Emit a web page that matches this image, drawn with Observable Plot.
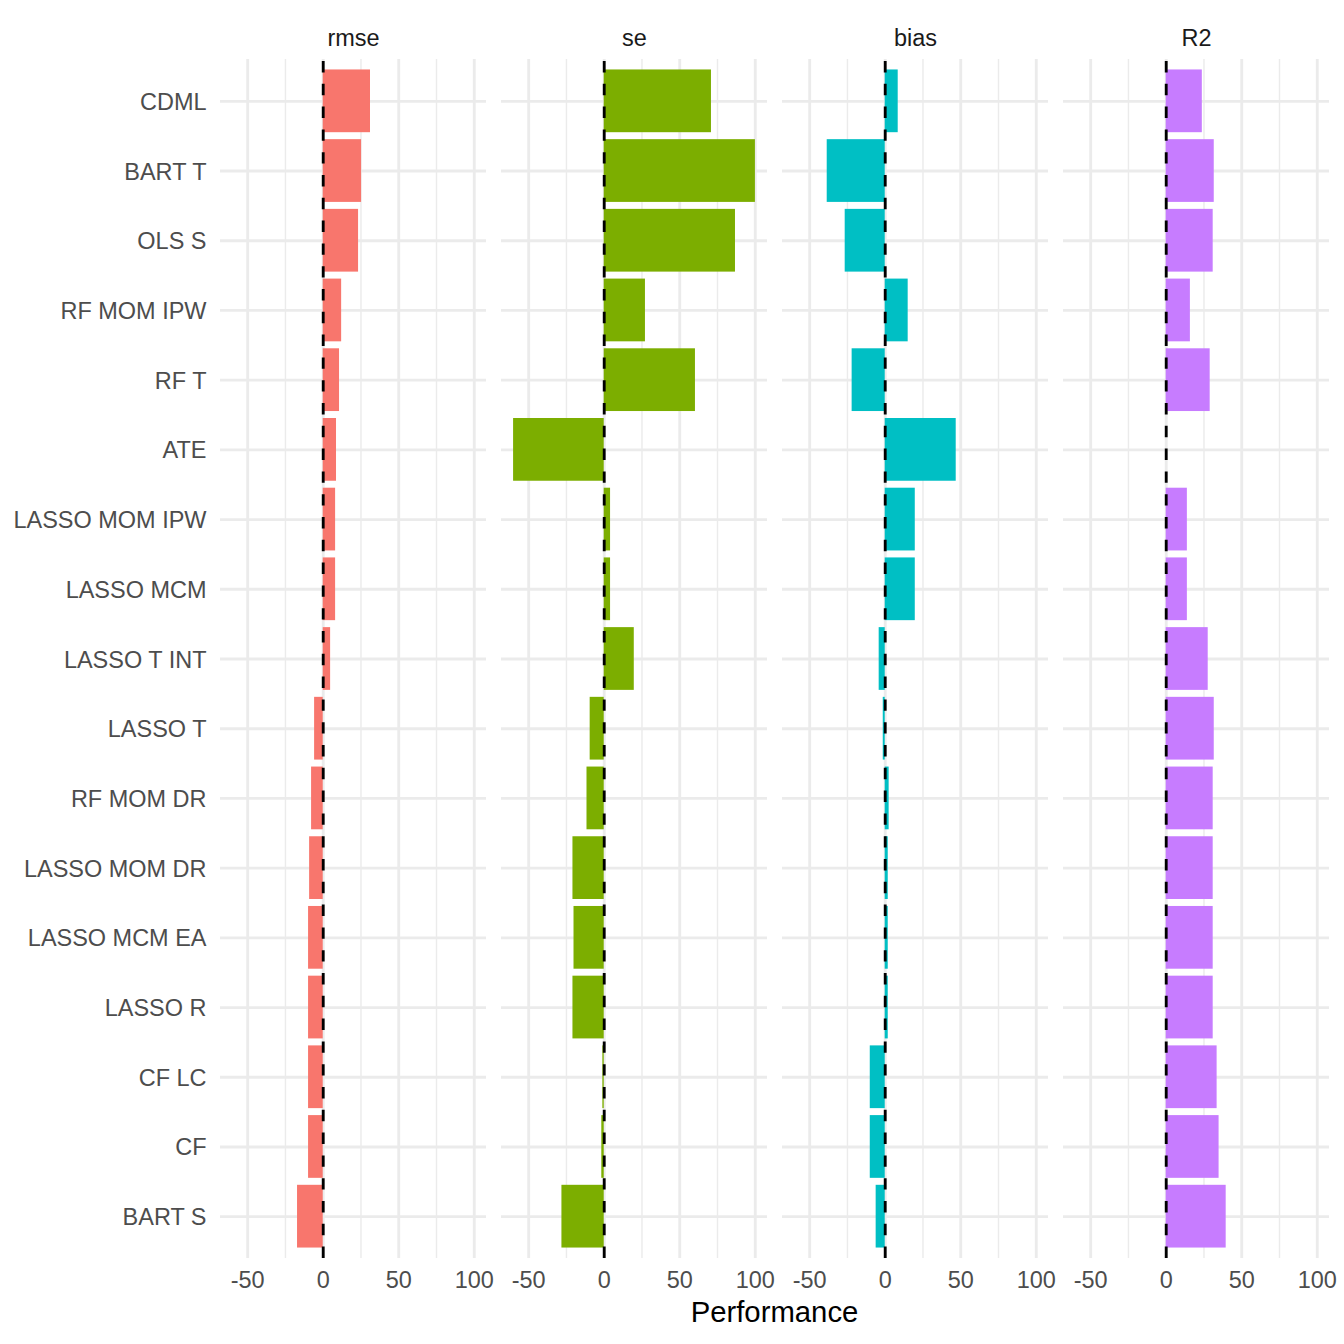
<!DOCTYPE html>
<html>
<head>
<meta charset="utf-8">
<script src="https://cdn.jsdelivr.net/npm/d3@7"></script>
<script src="https://cdn.jsdelivr.net/npm/@observablehq/plot@0.6"></script>
<style>
  html, body { margin: 0; padding: 0; background: white; }
</style>
</head>
<body>
<script>
// Methods (top to bottom)
const methods = ["CDML", "BART T", "OLS S", "RF MOM IPW", "RF T", "ATE", "LASSO MOM IPW", "LASSO MCM",
  "LASSO T INT", "LASSO T", "RF MOM DR", "LASSO MOM DR", "LASSO MCM EA", "LASSO R", "CF LC", "CF", "BART S"];

// Facets
const metrics = ["rmse", "se", "bias", "R2"];
const metricColors = ["#F8766D", "#7CAE00", "#00BFC4", "#C77CFF"];

// Values per metric (same order as methods)
const rmse = [31.3, 25.4, 23.4, 12.2, 10.8, 8.8, 8.2, 8.2, 4.9, -5.7, -7.7, -9.0, -9.7, -9.7, -9.7, -9.7, -17.0];
const se   = [71.0, 100.1, 86.9, 27.3, 60.4, -60.0, 4.2, 4.2, 19.9, -9.3, -11.4, -20.7, -20.0, -20.7, -0.9, -1.6, -28.0];
const bias = [8.6, -38.4, -26.5, 15.2, -21.9, 47.0, 19.9, 19.9, -4.0, -1.3, 2.6, 2.0, 2.0, 2.0, -9.9, -9.9, -6.0];
const r2   = [23.9, 31.8, 31.1, 16.0, 29.1, null, 14.0, 14.0, 27.8, 31.8, 31.1, 31.1, 31.1, 31.1, 33.7, 35.0, 39.7];

const xTicks = [-50, 0, 50, 100];
const xMinor = [-25, 25, 75];

const series = {rmse, se, bias, R2: r2};
const data = [];
for (const m of metrics) {
  series[m].forEach((v, i) => {
    if (v !== null && v !== undefined) data.push({metric: m, method: methods[i], value: v});
  });
}

const W = 1344, H = 1344;
const mL = 220, mR = 15, mT = 59, mB = 86;

const chart = Plot.plot({
  width: W,
  height: H,
  marginLeft: mL,
  marginRight: mR,
  marginTop: mT,
  marginBottom: mB,
  style: {fontFamily: "'Liberation Sans', Arial, Helvetica, sans-serif", background: "white", color: "#4D4D4D"},
  fx: {domain: metrics, paddingInner: 15 / 281, paddingOuter: 0, round: false, label: null, axis: null},
  x: {domain: [-68, 108.1], label: null},
  y: {domain: methods, paddingInner: 0.1, paddingOuter: 0.15, round: false, label: null},
  color: {domain: metrics, range: metricColors},
  marks: [
    Plot.ruleX(xMinor, {stroke: "#EBEBEB", strokeWidth: 1.42}),
    Plot.ruleX(xTicks, {stroke: "#EBEBEB", strokeWidth: 2.84}),
    Plot.gridY({stroke: "#EBEBEB", strokeOpacity: 1, strokeWidth: 2.84}),
    Plot.barX(data, {fx: "metric", y: "method", x: "value", fill: "metric"}),
    Plot.ruleX([0], {stroke: "black", strokeWidth: 2.84, strokeDasharray: "11.4,11.4", strokeDashoffset: 20.8}),
    Plot.axisX({ticks: xTicks, tickFormat: d => String(d), tickSize: 0, tickPadding: 13, fontSize: 23.47, fill: "#4D4D4D", label: null}),
    Plot.axisY({tickSize: 0, tickPadding: 14, fontSize: 23.47, fill: "#4D4D4D", label: null, dy: 1}),
    Plot.text(metrics, {fx: d => d, text: d => d, frameAnchor: "top", lineAnchor: "bottom", dy: -14, fontSize: 23.47, fill: "#1A1A1A"})
  ]
});

// x-axis title centered under the panels
d3.select(chart).append("text")
  .attr("x", (mL + (W - mR)) / 2)
  .attr("y", 1321.5)
  .attr("text-anchor", "middle")
  .attr("font-family", "'Liberation Sans', Arial, Helvetica, sans-serif")
  .attr("font-size", 29.3)
  .attr("fill", "black")
  .text("Performance");

document.body.appendChild(chart);
</script>
</body>
</html>
